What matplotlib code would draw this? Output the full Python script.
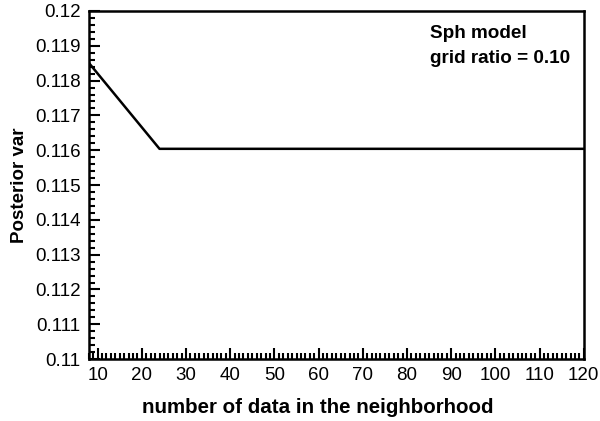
import matplotlib
matplotlib.use('Agg')
import matplotlib.pyplot as plt
from matplotlib.ticker import MultipleLocator

# neighbourhood size vs posterior variance
n_data = [8, 24, 120]
post_var = [0.11851, 0.11604, 0.11604]

x_ticks = [10, 20, 30, 40, 50, 60, 70, 80, 90, 100, 110, 120]
y_ticks = [0.11, 0.111, 0.112, 0.113, 0.114, 0.115, 0.116, 0.117, 0.118, 0.119, 0.12]
y_tick_labels = ['0.11', '0.111', '0.112', '0.113', '0.114', '0.115',
                 '0.116', '0.117', '0.118', '0.119', '0.12']

plt.rcParams['font.family'] = ['Liberation Sans', 'DejaVu Sans']

fig = plt.figure(figsize=(6, 4.21), dpi=100)
ax = fig.add_axes([0.148, 0.147, 0.825, 0.827])

ax.plot(n_data, post_var, color='black', lw=1.8)

ax.set_xlim(8, 120)
ax.set_ylim(0.11, 0.12)
ax.set_xticks(x_ticks)
ax.set_yticks(y_ticks)
ax.set_yticklabels(y_tick_labels)
ax.xaxis.set_minor_locator(MultipleLocator(1))
ax.yaxis.set_minor_locator(MultipleLocator(0.0002))

ax.tick_params(which='both', direction='in', top=False, right=False,
               width=1.5, labelsize=13.5, color='black')
ax.tick_params(which='major', length=8, pad=6)
ax.tick_params(which='minor', length=4)
for s in ax.spines.values():
    s.set_linewidth(1.8)

ax.set_xlabel('number of data in the neighborhood', fontsize=14.8,
              fontweight='bold')
ax.xaxis.set_label_coords(0.463, -0.14, transform=ax.transAxes)
ax.xaxis.label.set_va('center')
ax.set_ylabel('Posterior var', fontsize=13.5, fontweight='bold', labelpad=5)

ax.text(0.689, 0.935, 'Sph model', transform=ax.transAxes, fontsize=13.6,
        fontweight='bold', va='center', ha='left')
ax.text(0.689, 0.862, 'grid ratio = 0.10', transform=ax.transAxes,
        fontsize=13.6, fontweight='bold', va='center', ha='left')

fig.savefig('out.png', dpi=100)
